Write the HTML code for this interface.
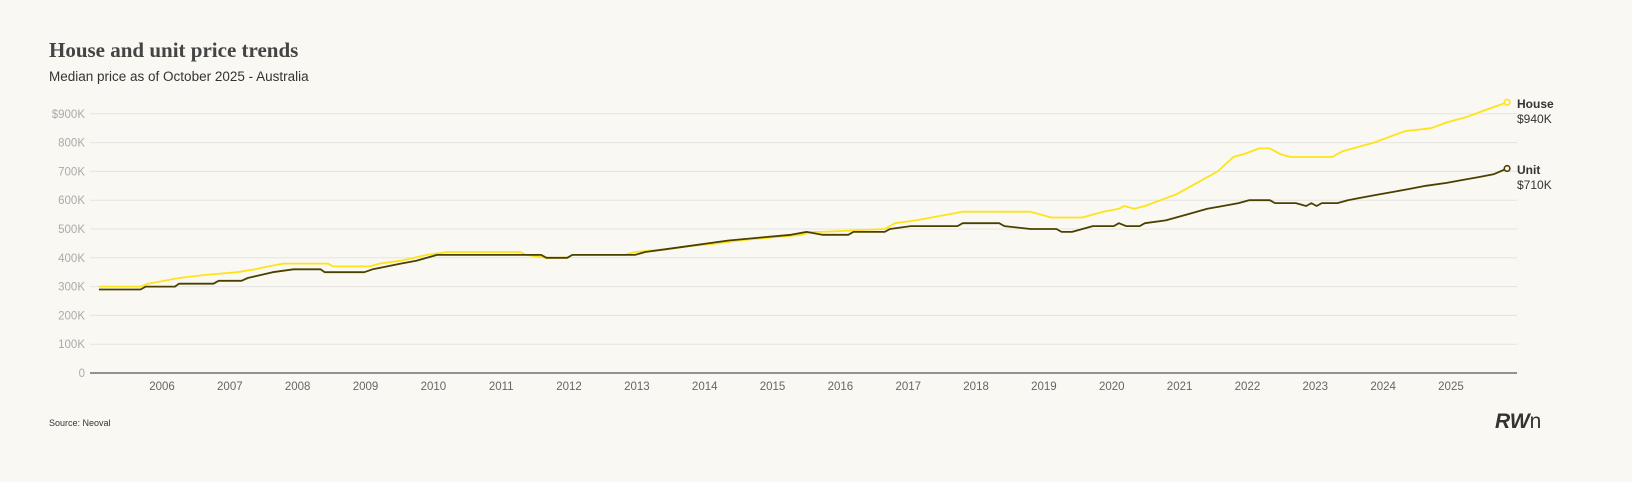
<!DOCTYPE html>
<html><head><meta charset="utf-8">
<style>
html,body{margin:0;padding:0;background:#f9f8f2;}
svg{display:block;font-family:"Liberation Sans",sans-serif;}
</style></head>
<body>
<svg id="s" width="1632" height="482" viewBox="0 0 1632 482" xmlns="http://www.w3.org/2000/svg">
<rect width="1632" height="482" fill="#f9f8f2"/>
<text x="49" y="57" font-family="Liberation Serif,serif" font-weight="bold" font-size="21" fill="#444">House and unit price trends</text>
<text x="49" y="81" font-size="13.5" fill="#333">Median price as of October 2025 - Australia</text>
<g id="grid"></g>
<g id="lines"></g>
<text x="1517" y="108" font-size="12" font-weight="bold" fill="#333">House</text>
<text x="1517" y="123" font-size="12" fill="#333">$940K</text>
<text x="1517" y="174" font-size="12" font-weight="bold" fill="#333">Unit</text>
<text x="1517" y="189" font-size="12" fill="#333">$710K</text>
<text x="49" y="426" font-size="9" fill="#333">Source: Neoval</text>
<text x="1495" y="428" font-size="21" font-weight="bold" font-style="italic" fill="#333">RW<tspan font-weight="normal" font-style="normal">n</tspan></text>
</svg>
<script>
const NS="http://www.w3.org/2000/svg";
const g=document.getElementById('grid'),L=document.getElementById('lines');
function el(t,a,p,txt){const e=document.createElementNS(NS,t);for(const k in a)e.setAttribute(k,a[k]);if(txt!==undefined)e.textContent=txt;p.appendChild(e);return e;}
const Y=v=>373-v*0.288, X=x=>x*1.0408;
for(let i=0;i<=9;i++){const y=373-i*28.8;
 if(i>0)el('line',{x1:90,x2:1517,y1:y,y2:y,stroke:'#e4e4e2','stroke-width':1},g);
 el('text',{x:85,y:y+4,'text-anchor':'end','font-size':11.5,fill:'#aaa'},g,i==0?'0':(i==9?'$900K':i+'00K'));}
el('line',{x1:90,x2:1517,y1:373,y2:373,stroke:'#555','stroke-width':1.3},g);
for(let yr=2006;yr<=2025;yr++){el('text',{x:162+(yr-2006)*67.84,y:390,'text-anchor':'middle','font-size':11.5,fill:'#666'},g,yr);}
const house=[[95,300],[135,300],[142,310],[158,320],[172,330],[195,340],[228,350],[245,360],[258,370],[272,380],[315,380],[320,370],[355,370],[365,380],[385,390],[398,400],[410,410],[430,420],[500,420],[505,410],[525,400],[545,400],[550,410],[600,410],[610,420],[640,430],[660,440],[690,450],[710,460],[740,470],[770,480],[780,490],[790,490],[850,500],[860,520],[880,530],[895,540],[910,550],[925,560],[990,560],[1000,550],[1010,540],[1040,540],[1050,550],[1060,560],[1075,570],[1080,580],[1090,570],[1100,580],[1115,600],[1130,620],[1140,640],[1170,700],[1185,750],[1195,760],[1210,780],[1220,780],[1230,760],[1240,750],[1280,750],[1290,770],[1300,780],[1310,790],[1320,800],[1335,820],[1350,840],[1375,850],[1390,870],[1410,890],[1425,910],[1448,940]];
const unit=[[95,290],[135,290],[140,300],[168,300],[172,310],[205,310],[210,320],[232,320],[238,330],[250,340],[262,350],[282,360],[308,360],[312,350],[350,350],[358,360],[372,370],[385,380],[400,390],[420,410],[440,410],[520,410],[525,400],[545,400],[550,410],[610,410],[620,420],[640,430],[660,440],[680,450],[700,460],[730,470],[760,480],[775,490],[790,480],[815,480],[820,490],[850,490],[855,500],[875,510],[920,510],[925,520],[960,520],[965,510],[990,500],[1015,500],[1020,490],[1030,490],[1040,500],[1050,510],[1070,510],[1075,520],[1082,510],[1095,510],[1100,520],[1120,530],[1140,550],[1160,570],[1175,580],[1190,590],[1200,600],[1220,600],[1225,590],[1245,590],[1255,580],[1260,590],[1265,580],[1270,590],[1285,590],[1295,600],[1310,610],[1325,620],[1340,630],[1355,640],[1370,650],[1390,660],[1405,670],[1420,680],[1435,690],[1448,710]];
function draw(d,c){const p=d.map((q,i)=>(i?'L':'M')+X(q[0]).toFixed(1)+' '+Y(q[1]).toFixed(1)).join(' ');
 el('path',{d:p,fill:'none',stroke:c,'stroke-width':1.8,'stroke-linejoin':'round'},L);
 const e=d[d.length-1];el('circle',{cx:X(e[0]),cy:Y(e[1]),r:2.8,fill:'#f9f8f2',stroke:c,'stroke-width':1.6},L);}
draw(house,'#ffe31a');draw(unit,'#4a4100');
</script>
</body></html>
